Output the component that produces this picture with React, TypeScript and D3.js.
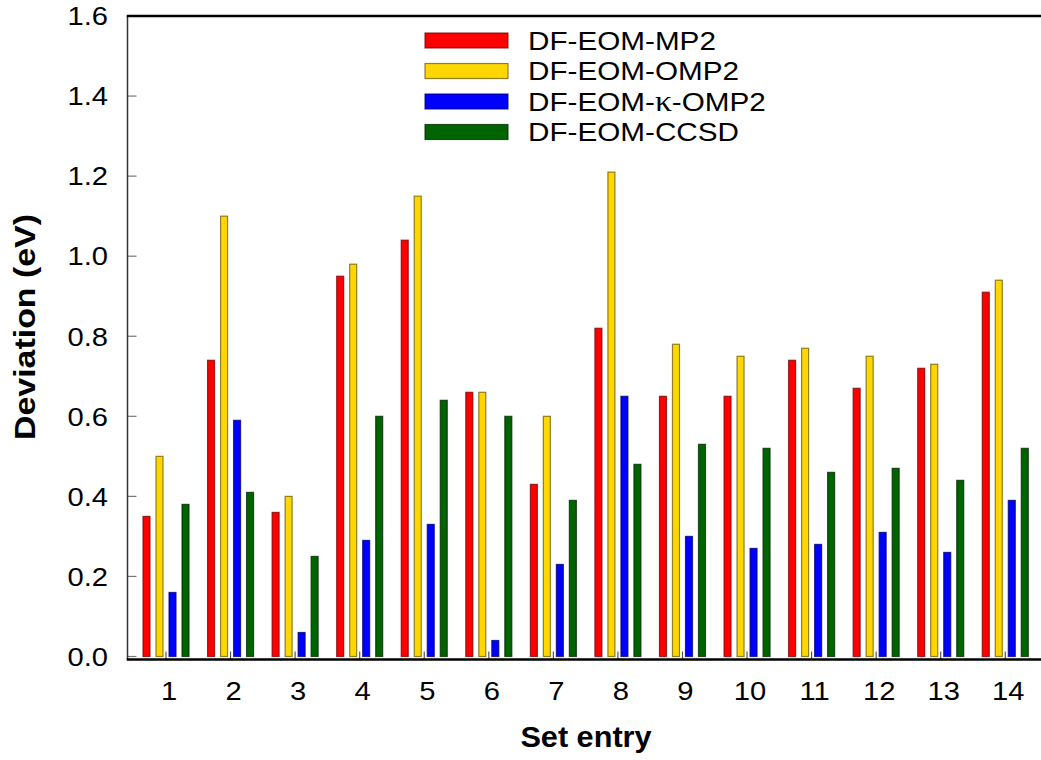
import React from "react";
import * as d3 from "d3";

const categories = ["1","2","3","4","5","6","7","8","9","10","11","12","13","14"];
const seriesNames = ["DF-EOM-MP2", "DF-EOM-OMP2", "DF-EOM-\u03BA-OMP2", "DF-EOM-CCSD"];
const mp2 =      [0.35, 0.74, 0.36, 0.95, 1.04, 0.66, 0.43, 0.82, 0.65, 0.65, 0.74, 0.67, 0.72, 0.91];
const omp2 =     [0.50, 1.10, 0.40, 0.98, 1.15, 0.66, 0.60, 1.21, 0.78, 0.75, 0.77, 0.75, 0.73, 0.94];
const kappaOmp2 =[0.16, 0.59, 0.06, 0.29, 0.33, 0.04, 0.23, 0.65, 0.30, 0.27, 0.28, 0.31, 0.26, 0.39];
const ccsd =     [0.38, 0.41, 0.25, 0.60, 0.64, 0.60, 0.39, 0.48, 0.53, 0.52, 0.46, 0.47, 0.44, 0.52];
const yTicks = [0, 0.2, 0.4, 0.6, 0.8, 1.0, 1.2, 1.4, 1.6];

const seriesValues = [mp2, omp2, kappaOmp2, ccsd];
const colors = ["#ff0000", "#ffd700", "#0000ff", "#006400"];
const strokes = ["#7a0000", "#6e5a00", "#00007a", "#002800"];

function LegendLabel({ name }: { name: string }) {
  const parts = name.split("\u03BA");
  if (parts.length === 1) return <>{name}</>;
  return (
    <>
      {parts[0]}
      <tspan fontFamily="'Liberation Serif', 'DejaVu Serif', serif" fontSize={30}>{"\u03BA"}</tspan>
      {parts[1]}
    </>
  );
}

export default function App() {
  const W = 1041, H = 760;
  const axisLeft = 127.5, axisRight = 1041, plotTop = 16, axisY = 659.5;
  const y = d3.scaleLinear().domain([0, 1.6]).range([656.5, 16]);
  const step = 64.56;
  const x0 = 166 - step / 2;
  const x = d3.scaleBand<string>().domain(categories).range([x0, x0 + step * categories.length]).padding(0);
  const bw = x.bandwidth();
  const inner = d3.scaleBand<string>().domain(seriesNames).range([bw / 2 - 26, bw / 2 + 26]).paddingInner(6 / 13).paddingOuter(0.23);
  const font = "'Liberation Sans', Arial, Helvetica, sans-serif";
  const sx = 1.1;

  return (
    <svg width={W} height={H} style={{ position: "absolute", left: 0, top: 0, background: "#fff" }} fontFamily={font}>
      {seriesValues.map((vals, si) =>
        vals.map((v, i) => {
          const bx = (x(categories[i]) as number) + (inner(seriesNames[si]) as number);
          const w = inner.bandwidth();
          return (
            <rect key={`${si}-${i}`} x={bx} y={y(v)} width={w} height={y(0) - y(v)}
              fill={colors[si]} stroke={strokes[si]} strokeOpacity={0.75} strokeWidth={1.2} />
          );
        })
      )}
      {yTicks.map((t) => (
        <g key={t}>
          <line x1={axisLeft} x2={axisLeft + 9} y1={y(t)} y2={y(t)} stroke="#777" strokeWidth={1.2} />
          <text transform={`translate(108,${y(t)}) scale(${sx},1)`} dy="0.35em" textAnchor="end" fontSize={26.5} fill="#000">{t.toFixed(1)}</text>
        </g>
      ))}
      {categories.map((c) => {
        const cx = (x(c) as number) + bw / 2;
        return (
          <g key={c}>
            <line x1={cx} x2={cx} y1={axisY} y2={axisY - 8} stroke="#555" strokeWidth={1.2} />
            <text transform={`translate(${cx + 3},700) scale(${sx},1)`} textAnchor="middle" fontSize={26.5} fill="#000">{c}</text>
          </g>
        );
      })}
      <line x1={axisLeft} x2={axisLeft} y1={plotTop} y2={axisY} stroke="#333" strokeWidth={1.5} />
      <line x1={axisLeft - 0.75} x2={axisRight} y1={plotTop} y2={plotTop} stroke="#000" strokeWidth={2.5} />
      <line x1={axisLeft - 0.75} x2={axisRight} y1={axisY} y2={axisY} stroke="#000" strokeWidth={2.5} />
      <text transform={`translate(586,747) scale(1.04,1)`} textAnchor="middle" fontSize={29.5} fontWeight="bold">Set entry</text>
      <text transform={`translate(35,327) rotate(-90) scale(1.15,1)`} textAnchor="middle" fontSize={29.5} fontWeight="bold">Deviation (eV)</text>
      {seriesNames.map((n, i) => {
        const cy = 40.5 + i * 30.5;
        return (
          <g key={n}>
            <rect x={425} y={cy - 7.5} width={83} height={15} fill={colors[i]} stroke={strokes[i]} strokeOpacity={0.75} strokeWidth={1.2} />
            <text transform={`translate(528,${cy}) scale(1.12,1)`} dy="0.35em" fontSize={26.5} fill="#000"><LegendLabel name={n} /></text>
          </g>
        );
      })}
    </svg>
  );
}
